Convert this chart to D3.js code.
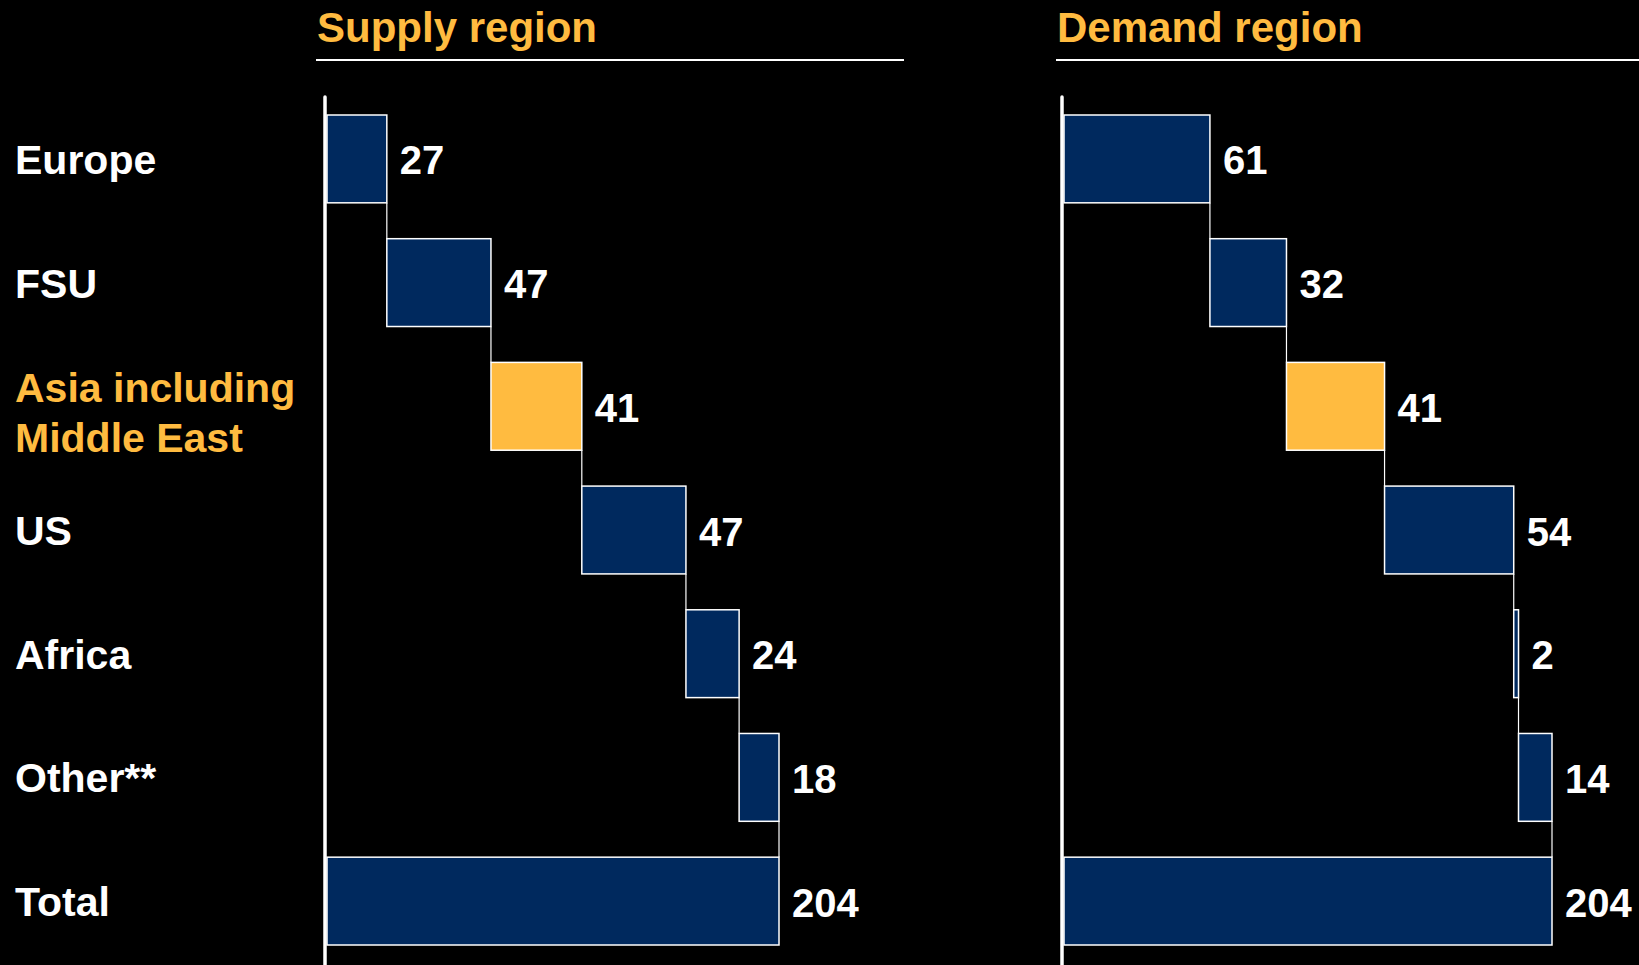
<!DOCTYPE html>
<html>
<head>
<meta charset="utf-8">
<script src="https://cdn.jsdelivr.net/npm/d3@7"></script>
<style>
    body { margin: 0; background: #000; }
    svg { display: block; }
    text { font-family: "Liberation Sans", Arial, sans-serif; font-weight: bold; }
</style>
</head>
<body>
<div id="chart"></div>
<script>
// data
let categories = ["Europe", "FSU", "Asia including|Middle East", "US", "Africa", "Other**", "Total"];
let highlightCat = "Asia including|Middle East";
let supplyValues = [27, 47, 41, 47, 24, 18];
let supplyTotal = 204;
let demandValues = [61, 32, 41, 54, 2, 14];
let demandTotal = 204;

let navy = "#00295e";
let gold = "#ffbb40";

var svg = d3.select("#chart")
    .append("svg")
    .attr("width", 1639)
    .attr("height", 965);

svg.append("rect")
    .attr("width", 1639)
    .attr("height", 965)
    .attr("fill", "#000");

var yScale = d3.scaleBand()
    .domain(categories)
    .range([115, 945])
    .paddingInner(0.29)
    .paddingOuter(0)
    .align(0);

// row labels on the left
categories.forEach(function(c) {
    let lines = c.split("|");
    let cy = yScale(c) + yScale.bandwidth() / 2;
    let t = svg.append("text")
        .attr("x", 15)
        .attr("y", cy - (lines.length - 1) * 25 + (lines.length > 1 ? 10 : 4))
        .attr("dominant-baseline", "middle")
        .attr("font-size", "41px")
        .attr("fill", c === highlightCat ? gold : "#fff");
    lines.forEach(function(l, i) {
        t.append("tspan")
            .attr("x", 15)
            .attr("dy", i === 0 ? 0 : 50)
            .text(l);
    });
});

function DrawWaterfall(title, values, total, x0, x1, titleX, lineX1) {
    let g = svg.append("g");

    let xScale = d3.scaleLinear()
        .domain([0, total])
        .range([x0, x1]);

    g.append("text")
        .attr("x", titleX)
        .attr("y", 42)
        .attr("font-size", "42px")
        .attr("fill", gold)
        .text(title);

    g.append("line")
        .attr("x1", titleX - 1)
        .attr("x2", lineX1)
        .attr("y1", 60)
        .attr("y2", 60)
        .attr("stroke", "#fff")
        .attr("stroke-width", 2);

    // axis
    g.append("line")
        .attr("x1", x0 - 2)
        .attr("x2", x0 - 2)
        .attr("y1", 97)
        .attr("y2", 965)
        .attr("stroke", "#fff")
        .attr("stroke-width", 3.5)
        .attr("stroke-linecap", "round");

    let rows = [];
    let acc = 0;
    for (let i = 0; i < values.length; i++) {
        rows.push({cat: categories[i], start: acc, end: acc + values[i], val: values[i]});
        acc += values[i];
    }
    rows.push({cat: categories[categories.length - 1], start: 0, end: total, val: total});

    // connectors
    for (let i = 0; i < rows.length - 1; i++) {
        g.append("line")
            .attr("x1", xScale(rows[i].end))
            .attr("x2", xScale(rows[i].end))
            .attr("y1", yScale(rows[i].cat) + yScale.bandwidth())
            .attr("y2", yScale(rows[i + 1].cat))
            .attr("stroke", "#fff")
            .attr("stroke-width", 1.2);
    }

    g.selectAll(".bar")
        .data(rows)
        .enter()
        .append("rect")
        .attr("class", "bar")
        .attr("x", function(d) { return xScale(d.start); })
        .attr("y", function(d) { return yScale(d.cat); })
        .attr("width", function(d) { return Math.max(1, xScale(d.end) - xScale(d.start)); })
        .attr("height", yScale.bandwidth())
        .attr("fill", function(d) { return d.cat === highlightCat ? gold : navy; })
        .attr("stroke", "#fff")
        .attr("stroke-width", 1.5);

    g.selectAll(".val")
        .data(rows)
        .enter()
        .append("text")
        .attr("class", "val")
        .attr("x", function(d) { return xScale(d.end) + 13; })
        .attr("y", function(d) { return yScale(d.cat) + yScale.bandwidth() / 2 + 5; })
        .attr("dominant-baseline", "middle")
        .attr("font-size", "40px")
        .attr("fill", "#fff")
        .text(function(d) { return d.val; });
}

DrawWaterfall("Supply region", supplyValues, supplyTotal, 327, 779, 317, 904);
DrawWaterfall("Demand region", demandValues, demandTotal, 1064, 1552, 1057, 1639);
</script>
</body>
</html>
